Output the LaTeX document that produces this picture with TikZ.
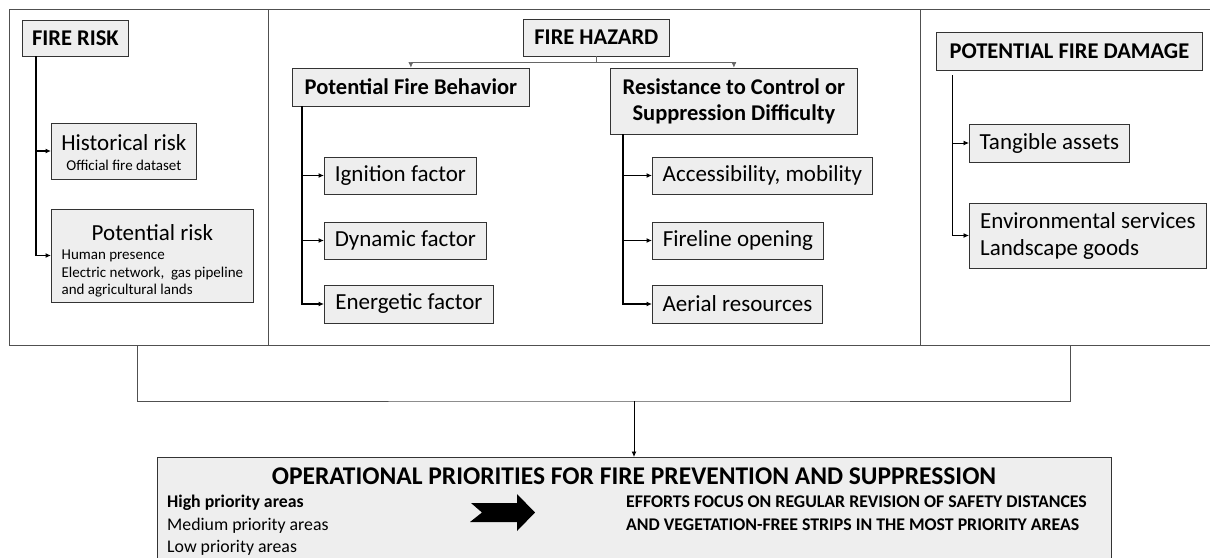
\documentclass[tikz,border=0pt]{standalone}
\usepackage{fontspec}
\setmainfont{Carlito}
\usetikzlibrary{arrows.meta}
\definecolor{boxgray}{HTML}{EEEEEE}
\definecolor{linegray}{HTML}{505050}
\newcommand{\fshead}{\fontsize{22.5}{26}\selectfont\bfseries}
\newcommand{\fsitem}{\fontsize{23}{27}\selectfont}
\newcommand{\fssmall}{\fontsize{15}{17.5}\selectfont}
\newcommand{\fsnote}{\fontsize{17.8}{23}\selectfont}

\begin{document}
\begin{tikzpicture}[x=1pt, y=-1pt, >={Latex[length=5.5pt,width=5pt]},
	box/.style = {draw=black!80, fill=boxgray, line width=0.8pt, inner sep=0pt, anchor=west},
	frame/.style = {draw=linegray, line width=0.8pt},
	link/.style = {->, line width=0.9pt},
	trunk/.style = {->, line width=1.3pt}]
	\useasboundingbox (0,0) rectangle (1210,557);
	
	% three panels
	\draw [frame] (9,9) rectangle (268,345);
	\draw [frame] (268,9) rectangle (920,345);
	\draw [frame] (1210,9) -| (920,345) -- (1210,345);
	
	% fire risk
	\node [box, minimum width=106pt, minimum height=36pt] (risk) at (22,38) {\fshead FIRE RISK};
	\node [box, minimum width=145pt, minimum height=56pt, align=center, font=\fsitem] (hist) at (51,151)
		{\rule{0pt}{19pt}Historical risk\\[-7pt]\fssmall Official fire dataset};
	\node [box, minimum width=202pt, minimum height=93pt, align=center, font=\fsitem] (pot) at (51,255.5)
		{\rule{0pt}{30pt}Potential risk\\[-8pt]{\fssmall\begin{tabular}[t]{@{}l@{}}Human presence\\Electric network,\ \ gas pipeline\\and agricultural lands\end{tabular}}};
	\draw [trunk] ([xshift=14pt]risk.south west) |- (hist.west);
	\draw [trunk] ([xshift=14pt]risk.south west) |- (pot.west);
	
	% fire hazard
	\node [box, minimum width=146pt, minimum height=37pt] (hazard) at (523,37.5) {\fshead FIRE HAZARD};
	\node [box, minimum width=237pt, minimum height=38pt] (pfb) at (292,87) {\fshead Potential Fire Behavior};
	\node [box, minimum width=247pt, minimum height=66pt, align=center, font=\fshead] (rcs) at (610,101)
		{Resistance to Control or\\Suppression Difficulty};
	\draw [->, line width=0.6pt, black!60] (hazard.south) -- ++(0,6) -| (pfb.north);
	\draw [->, line width=0.6pt, black!60] (hazard.south) -- ++(0,6) -| (rcs.north);
	
	\node [box, minimum width=152pt, minimum height=37pt] (ign) at (324,175.5) {\fsitem Ignition factor};
	\node [box, minimum width=162pt, minimum height=37pt] (dyn) at (324,240.5) {\fsitem Dynamic factor};
	\node [box, minimum width=169pt, minimum height=38pt] (ene) at (324,304) {\fsitem Energetic factor};
	\foreach \n in {ign,dyn,ene}
		\draw [trunk] ([xshift=10pt]pfb.south west) |- (\n.west);
	
	\node [box, minimum width=220pt, minimum height=37pt] (acc) at (652,175.5) {\fsitem Accessibility, mobility};
	\node [box, minimum width=171pt, minimum height=37pt] (fire) at (652,240.5) {\fsitem Fireline opening};
	\node [box, minimum width=170pt, minimum height=38pt] (aer) at (652,304) {\fsitem Aerial resources};
	\foreach \n in {acc,fire,aer}
		\draw [trunk] ([xshift=13pt]rcs.south west) |- (\n.west);
	
	% potential fire damage
	\node [box, minimum width=266pt, minimum height=38pt] (dmg) at (936,51) {\fshead POTENTIAL FIRE DAMAGE};
	\node [box, minimum width=160pt, minimum height=38pt] (tang) at (969,143) {\fsitem Tangible assets};
	\node [box, minimum width=237pt, minimum height=65pt, align=left, font=\fsitem] (env) at (969,235.5)
		{Environmental services\\Landscape goods};
	\draw [link] ([xshift=16pt,yshift=-5pt]dmg.south west) |- (tang.west);
	\draw [link] ([xshift=16pt,yshift=-5pt]dmg.south west) |- (env.west);
	
	% join to priorities
	\coordinate (jl) at (137,345);
	\coordinate (jr) at (1070,345);
	\coordinate (jm) at (634,401);
	\draw [frame] (jl) |- (jm) -| (jr);
	\node [box, anchor=north, minimum width=954pt, minimum height=125pt] (prio) at (634,457) {};
	\draw [link] (jm) -- (prio.north);
	
	\node [anchor=base] (priotitle) at (634,484) {\fontsize{25.5}{30}\selectfont\bfseries OPERATIONAL PRIORITIES FOR FIRE PREVENTION AND SUPPRESSION};
	\node [anchor=base west, inner sep=0pt] (high) at (167,507) {\fsnote\bfseries High priority areas};
	\node [anchor=base west, inner sep=0pt] (medium) at (167,530) {\fsnote Medium priority areas};
	\node [anchor=base west, inner sep=0pt] (low) at (167,552) {\fsnote Low priority areas};
	\fill (471,503) -- (517,503) -- (517,494) -- (535,512.5) -- (517,531) -- (517,522) -- (470,522) -- (482,512.5) -- cycle;
	\node [anchor=base west, inner sep=0pt] (effort) at (626,507) {\fsnote\bfseries EFFORTS FOCUS ON REGULAR REVISION OF SAFETY DISTANCES};
	\node [anchor=base west, inner sep=0pt] (strips) at (626,530) {\fsnote\bfseries AND VEGETATION-FREE STRIPS IN THE MOST PRIORITY AREAS};
\end{tikzpicture}
\end{document}
